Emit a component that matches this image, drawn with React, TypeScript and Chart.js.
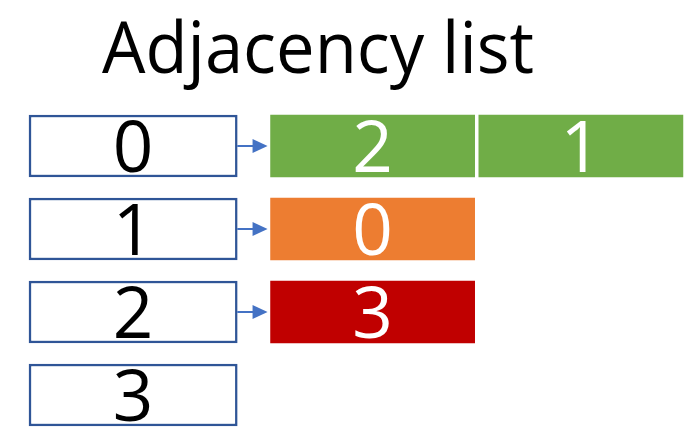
import React, { useEffect, useRef } from "react";
import { Chart, registerables } from "chart.js";

Chart.register(...registerables);

// ---- data ----
const TITLE = "Adjacency list";
const nodes: string[] = ["0", "1", "2", "3"];
const adjacency: number[][] = [[2, 1], [0], [3], []];
const rowColors: string[] = ["#70AD47", "#ED7D31", "#C00000", "#A5A5A5"];

// ---- layout constants (column units) ----
const NODE_START = 0;
const NODE_END = 1;
const CELL_START = 1.16;
const CELL_WIDTH = 0.98;
const X_MAX = 3.15;
const MAX_CELLS = Math.max(...adjacency.map((a) => a.length));

const FONT_FAMILY = '"Open Sans", "Noto Sans", sans-serif';
const NODE_BORDER = "#2F5597";
const ARROW_COLOR = "#4472C4";

const overlayPlugin = {
  id: "adjOverlay",
  afterDatasetsDraw(chart: any) {
    const ctx: CanvasRenderingContext2D = chart.ctx;
    ctx.save();
    // title
    ctx.fillStyle = "#000000";
    ctx.font = `71px ${FONT_FAMILY}`;
    ctx.textAlign = "center";
    ctx.textBaseline = "alphabetic";
    ctx.fillText(TITLE, 318, 73, 432);

    // labels
    ctx.font = `71px ${FONT_FAMILY}`;
    chart.data.datasets.forEach((ds: any, di: number) => {
      const meta = chart.getDatasetMeta(di);
      meta.data.forEach((el: any, i: number) => {
        const txt = ds.cellText ? ds.cellText[i] : null;
        if (txt === null || txt === undefined) return;
        const p = el.getProps(["x", "base", "y"], true);
        const cx = (p.x + p.base) / 2;
        const m = ctx.measureText(txt);
        const asc = m.actualBoundingBoxAscent || 51;
        ctx.fillStyle = ds.textColor;
        ctx.fillText(txt, cx, p.y + asc / 2);
      });
    });

    // arrows
    const nodeMeta = chart.getDatasetMeta(0);
    const firstCellMeta = chart.getDatasetMeta(1);
    adjacency.forEach((list, i) => {
      if (!list.length) return;
      const n = nodeMeta.data[i].getProps(["x", "y"], true);
      const c = firstCellMeta.data[i].getProps(["base", "y"], true);
      const y = n.y;
      const tip = c.base - 3;
      const headLen = 15;
      ctx.strokeStyle = ARROW_COLOR;
      ctx.fillStyle = ARROW_COLOR;
      ctx.lineWidth = 2;
      ctx.beginPath();
      ctx.moveTo(n.x, y);
      ctx.lineTo(tip - headLen + 1, y);
      ctx.stroke();
      ctx.beginPath();
      ctx.moveTo(tip, y);
      ctx.lineTo(tip - headLen, y - 7);
      ctx.lineTo(tip - headLen, y + 7);
      ctx.closePath();
      ctx.fill();
    });
    ctx.restore();
  },
};

export default function App() {
  const canvasRef = useRef<HTMLCanvasElement | null>(null);

  useEffect(() => {
    if (!canvasRef.current) return;
    const nodeDataset: any = {
      label: "nodes",
      data: nodes.map(() => [NODE_START, NODE_END]),
      backgroundColor: "#FFFFFF",
      borderColor: NODE_BORDER,
      borderWidth: 2.5,
      borderSkipped: false,
      barThickness: 62,
      grouped: false,
      cellText: nodes,
      textColor: "#000000",
    };
    const cellDatasets: any[] = [];
    for (let k = 0; k < MAX_CELLS; k++) {
      cellDatasets.push({
        label: `cell ${k}`,
        data: adjacency.map((a) =>
          a[k] !== undefined ? [CELL_START + k, CELL_START + k + CELL_WIDTH] : null
        ),
        backgroundColor: rowColors,
        borderWidth: 0,
        barThickness: 62,
        grouped: false,
        cellText: adjacency.map((a) => (a[k] !== undefined ? String(a[k]) : null)),
        textColor: "#FFFFFF",
      });
    }
    const chart = new Chart(canvasRef.current, {
      type: "bar",
      data: { labels: nodes, datasets: [nodeDataset, ...cellDatasets] },
      options: {
        indexAxis: "y",
        animation: false,
        responsive: false,
        devicePixelRatio: 1,
        layout: { padding: { left: 29, right: 11, top: 146, bottom: 37 } },
        scales: {
          x: { type: "linear", min: 0, max: X_MAX, display: false },
          y: { type: "category", offset: false, display: false },
        },
        datasets: { bar: { clip: false } as any },
        plugins: {
          legend: { display: false },
          tooltip: { enabled: false },
          title: { display: false },
        },
      } as any,
      plugins: [overlayPlugin],
    });
    return () => chart.destroy();
  }, []);

  return (
    <div style={{ position: "absolute", left: 0, top: 0, width: 696, height: 432, background: "#fff" }}>
      <canvas ref={canvasRef} width={696} height={432} style={{ display: "block" }} />
    </div>
  );
}
